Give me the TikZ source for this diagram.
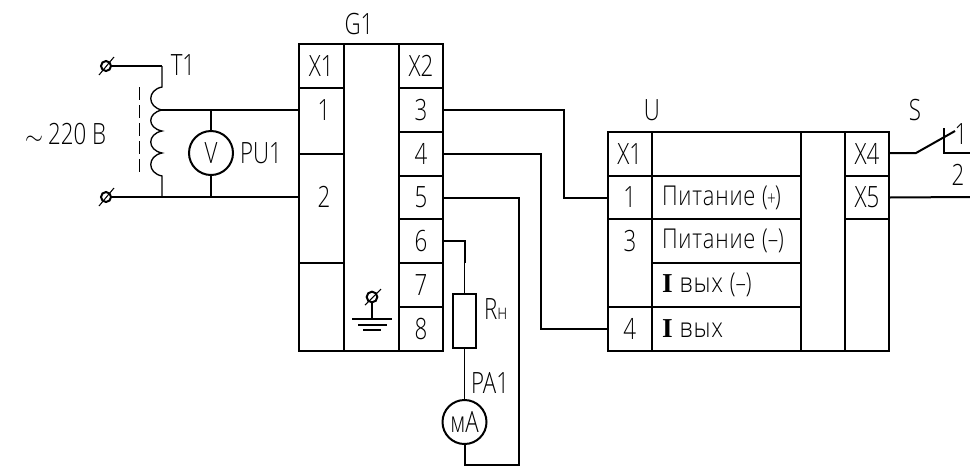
\documentclass[tikz,border=0pt]{standalone}
\usepackage{fontspec}
\setmainfont{Open Sans Light}[FakeStretch=0.76]
\newfontfamily\widefont{Open Sans Light}[FakeStretch=0.86,LetterSpace=3]
\newfontfamily\widerfont{Open Sans Light}[FakeStretch=0.8,LetterSpace=3]
\newfontfamily\boldI{Liberation Serif Bold}
\newcommand{\cellbox}[6]{\node[cellnode,minimum width={(#4-#2)*0.75pt},minimum height={(#5-#3)*0.75pt}] (#1) at ({(#2+#4)/2},{(#3+#5)/2}) {#6};}
\newcommand{\pit}{{\widerfont Питание}}
\newcommand{\nf}[1]{{\normalfont\fontsize{20.5}{22}\selectfont #1}}
\tikzset{
  cellnode/.style={draw,line width=1.5pt,inner sep=0pt,outer sep=0pt,font=\fontsize{22}{24}\selectfont},
  lab/.style={inner sep=0pt,outer sep=0pt,font=\fontsize{22}{24}\selectfont},
  widelab/.style={inner sep=0pt,outer sep=0pt,font=\widefont\fontsize{20.5}{22}\selectfont},
  wire/.style={line width=1.5pt},
  thinwire/.style={line width=1pt},
  term/.style={circle,draw,line width=1.5pt,minimum size=7.5pt,inner sep=0pt,outer sep=0pt},
  meter/.style={circle,draw,line width=1.5pt,minimum size=33pt,inner sep=0pt,outer sep=0pt,font=\fontsize{22}{24}\selectfont},
  slash/.style={line width=.8pt}
}
\begin{document}
\begin{tikzpicture}[x=0.75pt,y=-0.75pt]
\useasboundingbox (0,0) rectangle (970,469);
% G1
\node[lab] (g1name) at (359,24) {G1};
\cellbox{ga}{299}{44}{343.5}{88}{X1}
\cellbox{g1}{299}{88}{343.5}{154}{}
\cellbox{g2}{299}{154}{343.5}{263}{}
\cellbox{gb}{299}{263}{343.5}{351}{}
\cellbox{gm}{343.5}{44}{399}{351}{}
\cellbox{gx}{399}{44}{443}{88}{X2}
\cellbox{g3}{399}{88}{443}{132}{3}
\cellbox{g4}{399}{132}{443}{176}{4}
\cellbox{g5}{399}{176}{443}{219}{5}
\cellbox{g6}{399}{219}{443}{263}{6}
\cellbox{g7}{399}{263}{443}{307}{7}
\cellbox{g8}{399}{307}{443}{351}{8}
\node[lab] (g1t) at (324,110) {1};
\node[lab] (g2t) at (324,197) {2};
% U
\node[lab] (uname) at (652,110) {U};
\cellbox{ua}{607.5}{132}{652}{176}{X1}
\cellbox{u1}{607.5}{176}{652}{219}{1}
\cellbox{u3}{607.5}{219}{652}{307}{}
\cellbox{u4}{607.5}{307}{652}{351}{4}
\node[lab] (u3t) at (630,241) {3};
\cellbox{ub}{652}{132}{800.5}{176}{}
\cellbox{uc}{652}{176}{800.5}{219}{}
\cellbox{ud}{652}{219}{800.5}{263}{}
\cellbox{ue}{652}{263}{800.5}{307}{}
\cellbox{uf}{652}{307}{800.5}{351}{}
\node[widelab,anchor=west] (pp) at (662,198) {\pit\nf{\kern5pt(\kern-.5pt{\fontsize{15}{16}\selectfont +}\kern-.5pt)}};
\node[widelab,anchor=west] (pm) at (662,241) {\pit\nf{\kern5pt(–)}};
\node[widelab,anchor=west] (im) at (662,285) {{\boldI I} вых\nf{\kern5pt(–)}};
\node[widelab,anchor=west] (ii) at (662,329) {{\boldI I} вых};
\cellbox{um}{800.5}{132}{845}{351}{}
\cellbox{x4}{845}{132}{889}{176}{X4}
\cellbox{x5}{845}{176}{889}{219}{X5}
\cellbox{ur}{845}{219}{889}{351}{}
% transformer side
\node[term] (t1) at (106,66) {};
\node[term] (t2) at (106,197) {};
\draw[slash] (99,75) -- (114,57);
\draw[slash] (99,206) -- (114,188);
\coordinate (c00) at (162,66);
\coordinate (c0) at (162,87);
\coordinate (c1) at (162,110);
\coordinate (c2) at (162,131);
\coordinate (c3) at (162,153);
\coordinate (c4) at (162,176);
\coordinate (c5) at (162,197);
\draw[wire] (t1) -- (c00);
\draw[thinwire] (c00) -- (c0)
  .. controls (147,90) and (147,107) .. (c1)
  .. controls (147,113) and (147,128) .. (c2)
  .. controls (147,134) and (147,150) .. (c3)
  .. controls (147,156) and (147,173) .. (c4) -- (c5);
\coordinate (d0) at (139.5,87);
\coordinate (d1) at (139.5,177);
\draw[thinwire,dash pattern=on 10pt off 3.5pt] (d0) -- (d1);
\draw[wire] (c1) -- (c1 -| g1.west);
\draw[wire] (t2) -- (c5 -| g2.west);
\node[meter] (pu) at (211,153) {V};
\coordinate (v0) at (211,110);
\coordinate (v1) at (211,197);
\draw[wire] (v0) -- (pu);
\draw[wire] (pu) -- (v1);
\node[lab] (t1lab) at (183,65) {T1};
\node[lab] (pulab) at (261,153) {PU1};
\node[lab,anchor=east] (vlab) at (106,134) {{\fontsize{16}{18}\selectfont$\sim$}\,220 В};
% ground
\node[circle,draw,line width=1.5pt,minimum size=8pt,inner sep=0pt,outer sep=0pt] (gnd) at (372,297) {};
\draw[slash] (365,305) -- (381,289);
\coordinate (gs) at (372,319);
\draw[wire] (gnd) -- (gs);
\coordinate (gl0) at (352,319); \coordinate (gl1) at (392,319);
\coordinate (gm0) at (358,324.5); \coordinate (gm1) at (387,324.5);
\coordinate (gn0) at (363,330); \coordinate (gn1) at (381,330);
\draw[wire] (gl0) -- (gl1);
\draw[wire] (gm0) -- (gm1);
\draw[wire] (gn0) -- (gn1);
% wires G->U
\coordinate (b3) at (564,150);
\coordinate (b4) at (541,250);
\draw[wire] (g3.east) -| (b3) |- (u1.west);
\draw[wire] (g4.east) -| (b4) |- (u4.west);
% load loop
\node[draw,line width=1pt,minimum width=17.25pt,minimum height=40.5pt,inner sep=0pt,outer sep=0pt] (rn) at (464.5,321) {};
\node[meter] (ma) at (464.5,422) {мА};
\coordinate (k6) at (464.5,241);
\coordinate (k7) at (464.5,263);
\draw[wire] (g6.east) -- (k6) -- (k7);
\draw[thinwire] (k7) -- (rn.north);
\draw[thinwire] (rn.south) -- (ma.north);
\coordinate (r1) at (519,330);
\coordinate (r2) at (464.5,465);
\draw[wire] (g5.east) -| (r1) |- (r2) -- (ma.south);
\node[lab,anchor=west] (rlab) at (484,309) {R{\fontsize{16}{18}\selectfont н}};
\node[lab,anchor=west] (palab) at (471,383) {PA1};
% switch
\coordinate (s0) at (916,153);
\coordinate (s1) at (955,131);
\coordinate (s2) at (944,128);
\coordinate (s3) at (944,153);
\coordinate (s4) at (970,153);
\coordinate (s5) at (970,197);
\draw[wire] (x4.east |- s0) -- (s0) -- (s1);
\draw[wire] (s2) -- (s3) -- (s4);
\draw[wire] (x5.east) -- (s5);
\node[lab] (slab) at (915,110) {S};
\node[lab] (s1lab) at (961,134) {1};
\node[lab] (s2lab) at (958,175) {2};
\end{tikzpicture}
\end{document}
